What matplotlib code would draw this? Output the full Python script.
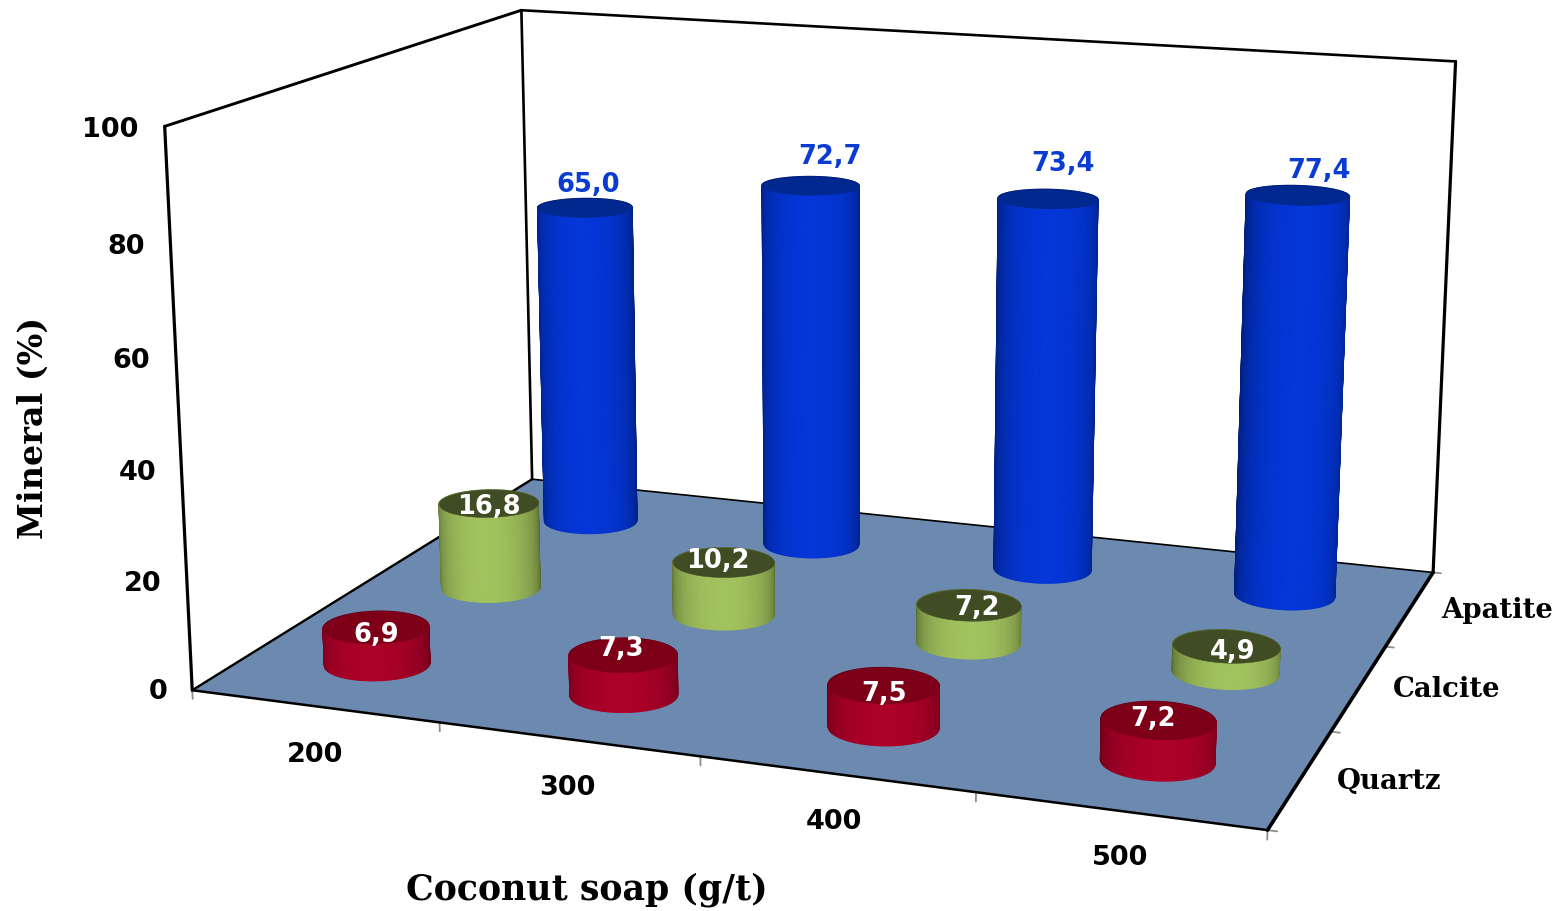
import numpy as np
import matplotlib
matplotlib.use('Agg')
import matplotlib.pyplot as plt
from matplotlib.colors import to_rgb
from mpl_toolkits.mplot3d import proj3d
from mpl_toolkits.mplot3d.art3d import Poly3DCollection

# ---- data ----
doses = ['200', '300', '400', '500']
minerals = ['Quartz', 'Calcite', 'Apatite']
quartz = [6.9, 7.3, 7.5, 7.2]
calcite = [16.8, 10.2, 7.2, 4.9]
apatite = [65.0, 72.7, 73.4, 77.4]
z_ticks = [0, 20, 40, 60, 80, 100]

# ---- style ----
W, H = 1560, 911
ELEV, AZIM, ROLL, FOCAL = 14.25, -70.20, -0.01, 0.4621
BOX = (1.9171, 1.4117, 1.0)
S, CX, CY = 7493.06, 844.68, 545.51
RX, RY = 0.197, 0.19
SERIF = 'DejaVu Serif'
SANS = 'DejaVu Sans'
STYLES = {
    'Quartz': dict(mid='#AC0028', edge='#6A0018', top='#7D0018'),
    'Calcite': dict(mid='#A2C25E', edge='#56682F', top='#404C24'),
    'Apatite': dict(mid='#0436D8', edge='#001E78', top='#00288E'),
}
FLOOR = '#6C89AF'
GREY = '#8C8C8C'
LABEL_BLUE = '#0A3CD2'
# label nudges, in data units
nudge = {
    'Apatite': dict(dx=[0.016, 0.085, 0.06, 0.08], dz=[1.9, 3.3, 4.4, 2.3]),
    'Calcite': dict(dx=[0.0, -0.024, 0.033, 0.025], dz=[-0.7, 0.2, -0.4, -0.9]),
    'Quartz': dict(dx=[0.0, -0.008, 0.0, -0.02], dz=[-1.4, 1.0, -1.6, 0.0]),
}
dose_dx = [0.24, 0.19, 0.14, 0.11]
dose_y = [-0.45, -0.44, -0.42, -0.40]

fig = plt.figure(figsize=(W/100, H/100), dpi=100, facecolor='white')
ax = fig.add_axes([0, 0, 1, 1], projection='3d', computed_zorder=False)
x0, y0, x1, y1 = ax.viewLim.extents
ax.set_position([(CX+S*x0)/W, (CY+S*y0)/H, S*(x1-x0)/W, S*(y1-y0)/H])
ax.set_xlim(0, len(doses), view_margin=0)
ax.set_ylim(0, len(minerals), view_margin=0)
ax.set_zlim(0, 100, view_margin=0)
ax.set_xticks([]); ax.set_yticks([]); ax.set_zticks([])
ax.view_init(ELEV, AZIM, ROLL)
ax.set_proj_type('persp', focal_length=FOCAL)
ax.set_box_aspect(BOX)
ax.set_axis_off()
ax.patch.set_visible(False)

nx, ny = len(doses), len(minerals)

def label(x, y, z, s, **kw):
    # place a text at a 3D data position through the axes' own projection
    xp, yp, _ = proj3d.proj_transform(x, y, z, ax.get_proj())
    ax.text2D(float(xp), float(yp), s, transform=ax.transData, fontweight='bold', zorder=100, **kw)

# floor
ax.add_collection3d(Poly3DCollection([[(0, 0, 0), (nx, 0, 0), (nx, ny, 0), (0, ny, 0)]],
                                     facecolors=FLOOR, edgecolors='none', zorder=1))
# frame
def line(a, b, lw=2.1, color='black', z=2):
    ax.plot([a[0], b[0]], [a[1], b[1]], [a[2], b[2]], color=color, lw=lw, zorder=z,
            solid_capstyle='round')
line((0, 0, 0), (nx, 0, 0), 1.8)
line((nx, 0, 0), (nx, ny, 0), 2.6)
line((0, 0, 0), (0, ny, 0), 1.7)
line((0, ny, 0), (nx, ny, 0), 1.2)
line((0, 0, 0), (0, 0, 100), 2.3)
line((0, ny, 0), (0, ny, 100), 1.9)
line((nx, ny, 0), (nx, ny, 100), 2.3)
line((0, 0, 100), (0, ny, 100), 2.1)
line((0, ny, 100), (nx, ny, 100), 1.9)

# ticks
for i in range(nx+1):
    line((i, 0, 0), (i, 0, -1.6), 1.3, GREY, 1.5)
for j in range(ny+1):
    line((nx, j, 0), (nx+0.032, j, 0), 1.3, GREY, 1.5)

# cylinders
az = np.deg2rad(AZIM)
theta = np.linspace(0, 2*np.pi, 121)
def cylinder(xc, yc, h, st, zo):
    mid, edge = np.array(to_rgb(st['mid'])), np.array(to_rgb(st['edge']))
    polys, cols = [], []
    for a, b in zip(theta[:-1], theta[1:]):
        xa, ya = xc+RX*np.cos(a), yc+RY*np.sin(a)
        xb, yb = xc+RX*np.cos(b), yc+RY*np.sin(b)
        polys.append([(xa, ya, 0), (xb, yb, 0), (xb, yb, h), (xa, ya, h)])
        d = max(np.cos(0.5*(a+b)-az), 0.0)
        cols.append(edge+(mid-edge)*d**0.8)
    side = Poly3DCollection(polys, facecolors=cols, edgecolors=cols, linewidths=1.0, zorder=zo)
    ax.add_collection3d(side)
    disk = [(xc+RX*np.cos(a), yc+RY*np.sin(a), h) for a in theta]
    ax.add_collection3d(Poly3DCollection([disk], facecolors=st['top'], edgecolors=st['top'],
                                         linewidths=0.4, zorder=zo+0.5))

series = [('Apatite', apatite, 2), ('Calcite', calcite, 1), ('Quartz', quartz, 0)]
zo = 3
for name, vals, j in series:
    for i, v in enumerate(vals):
        cylinder(i+0.5, j+0.5, v, STYLES[name], zo)
        zo += 1
    for i, v in enumerate(vals):
        lab = f'{v:.1f}'.replace('.', ',')
        n = nudge[name]
        if name == 'Apatite':
            label(i+0.5+n['dx'][i], j+0.5, v+n['dz'][i], lab, color=LABEL_BLUE, ha='center',
                  va='bottom', fontsize=18.5, family=SANS)
        else:
            label(i+0.5+n['dx'][i], j+0.5, v+n['dz'][i], lab, color='white', ha='center',
                  va='center', fontsize=18.5, family=SANS)

# tick labels
for v in z_ticks:
    label(-0.105, 0, v-1.0, str(v), ha='right', va='center', fontsize=19.5, family=SANS, color='black')
for i, d in enumerate(doses):
    label(i+0.5+dose_dx[i], dose_y[i], 0, d, ha='center', va='center', fontsize=19.5,
          family=SANS, color='black')
for j, m in enumerate(minerals):
    label(nx+0.12, j+0.52, 0, m, ha='left', va='center', fontsize=19.8, family=SERIF, color='black')

fig.text(587/W, 1-890/H, 'Coconut soap (g/t)', ha='center', va='center', fontsize=25,
         fontweight='bold', family=SERIF, color='black')
fig.text(33/W, 1-428/H, 'Mineral (%)', ha='center', va='center', rotation=90, fontsize=24,
         fontweight='bold', family=SERIF, color='black')

fig.savefig('out.png', dpi=100, facecolor='white')
